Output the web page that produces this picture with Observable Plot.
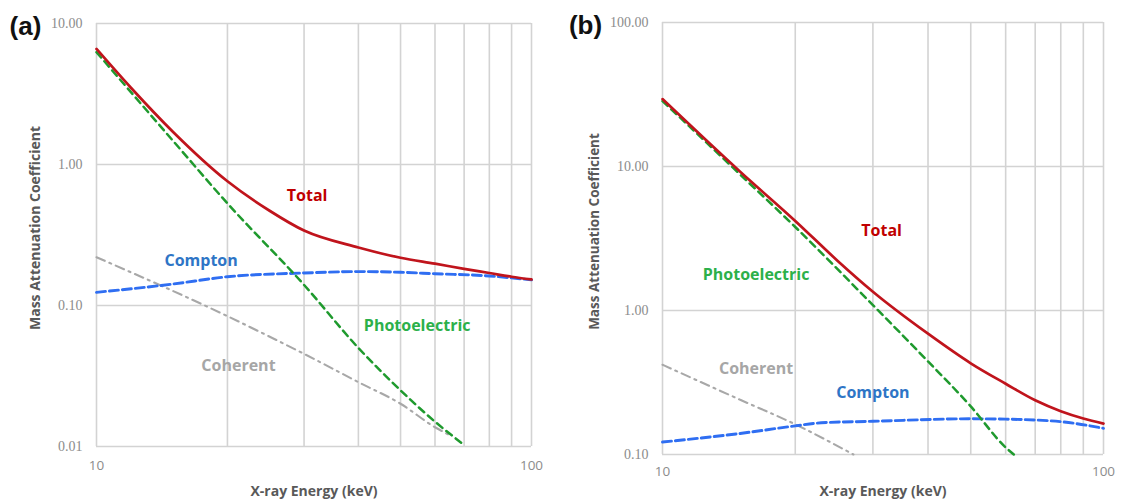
<!DOCTYPE html>
<html><head><meta charset="utf-8">
<script src="https://cdn.jsdelivr.net/npm/d3@7"></script>
<script src="https://cdn.jsdelivr.net/npm/@observablehq/plot@0.6"></script>
<style>
html,body{margin:0;padding:0;background:#fff;}
#wrap{position:relative;width:1121px;height:502px;overflow:hidden;background:#fff;}
#wrap svg{position:absolute;top:0;overflow:visible;}
</style></head><body>
<div id="wrap"></div>
<script>
// ---------- Panel (a) data ----------
const totalA_E = [10, 12, 15, 20, 25, 30, 40, 50, 60, 70, 80, 90, 100];
const totalA_v = [6.6, 3.5, 1.7, 0.76, 0.47, 0.34, 0.258, 0.218, 0.198, 0.182, 0.17, 0.16, 0.153];
const photoA_E = [10, 15, 20, 30, 40, 50, 60, 69.3];
const photoA_v = [6.26, 1.47, 0.53, 0.14, 0.05, 0.025, 0.015, 0.0105];
const comptonA_E = [10, 15, 20, 30, 40, 50, 60, 80, 100];
const comptonA_v = [0.124, 0.142, 0.16, 0.17, 0.174, 0.172, 0.168, 0.162, 0.152];
const coherentA_E = [10, 20, 26.5, 30, 40, 50, 60, 65];
const coherentA_v = [0.22, 0.084, 0.055, 0.0454, 0.0286, 0.0201, 0.0137, 0.012];
const yTicksA = [0.01, 0.1, 1, 10];

// ---------- Panel (b) data ----------
const totalB_E = [10, 15, 20, 25, 30, 40, 50, 60, 70, 80, 90, 100];
const totalB_v = [29.4, 9.2, 4.19, 2.2, 1.35, 0.69, 0.43, 0.31, 0.238, 0.2, 0.178, 0.164];
const photoB_E = [10, 15, 20, 30, 40, 50, 60, 62.6];
const photoB_v = [28.5, 8.8, 3.8, 1.09, 0.443, 0.216, 0.112, 0.1];
const comptonB_E = [10, 15, 20, 22.9, 30, 50, 60, 80, 100];
const comptonB_v = [0.122, 0.14, 0.158, 0.166, 0.17, 0.177, 0.176, 0.169, 0.152];
const coherentB_E = [10, 15, 20, 27.1];
const coherentB_v = [0.42, 0.24, 0.162, 0.1];
const yTicksB = [0.1, 1, 10, 100];

// shared
const xTicks = [10, 100];
const xGrid = [10, 20, 30, 40, 50, 60, 70, 80, 90, 100];
const xTitle = "X-ray Energy (keV)";
const yTitle = "Mass Attenuation Coefficient";

// label anchor points (data space)
const labelsA = [
  {t: "Total", E: 30.5, v: 0.603},
  {t: "Compton", E: 17.4, v: 0.206},
  {t: "Photoelectric", E: 54.6, v: 0.0713},
  {t: "Coherent", E: 21.2, v: 0.0375}
];
const labelsB = [
  {t: "Total", E: 31.4, v: 3.6},
  {t: "Photoelectric", E: 16.3, v: 1.76},
  {t: "Coherent", E: 16.3, v: 0.392},
  {t: "Compton", E: 30.0, v: 0.267}
];

const lineStyle = {
  Total: {stroke: "#c0141c", strokeWidth: 2.7},
  Photoelectric: {stroke: "#1f9a2e", strokeWidth: 2.5, strokeDasharray: "7,5"},
  Compton: {stroke: "#2f6ef2", strokeWidth: 2.9, strokeDasharray: "9,4"},
  Coherent: {stroke: "#a8a8a8", strokeWidth: 2.1, strokeDasharray: "9,5,2,5"}
};
const labelColor = {Total: "#c00000", Photoelectric: "#2cb04a", Compton: "#2e75c6", Coherent: "#a6a6a6"};

const zip = (E, v) => E.map((e, i) => ({E: e, v: v[i]}));

function panel(cfg) {
  const marks = [
    Plot.ruleX(xGrid, {stroke: "#d3d3d3", strokeWidth: 1.6}),
    Plot.ruleY(cfg.yTicks, {stroke: "#d3d3d3", strokeWidth: 1.6}),
    Plot.axisY(cfg.yTicks, {tickSize: 0, tickPadding: 14, tickFormat: d3.format(".2f"),
      fontFamily: "Liberation Serif, serif", fontSize: 14, fill: "#8c8c8c", label: null}),
    Plot.axisX(xTicks, {tickSize: 0, tickPadding: cfg.xPad, tickFormat: d => String(d),
      fontFamily: "Open Sans, sans-serif", fontSize: 13.5, fill: "#8c8c8c", label: null})
  ];
  const order = ["Coherent", "Compton", "Photoelectric", "Total"];
  for (const name of order) {
    marks.push(Plot.line(cfg.series[name], {x: "E", y: "v", curve: "monotone-x", ...lineStyle[name]}));
  }
  for (const l of cfg.labels) {
    marks.push(Plot.text([l], {x: "E", y: "v", text: "t", fill: labelColor[l.t],
      fontSize: 16, fontWeight: 700, fontFamily: "Open Sans, sans-serif"}));
  }
  marks.push(Plot.text([xTitle], {frameAnchor: "bottom", dy: cfg.xTitleDy, text: d => d,
    lineAnchor: "middle", textAnchor: "middle",
    fontSize: 14, fontWeight: 700, fill: "#595959", fontFamily: "Open Sans, sans-serif"}));
  marks.push(Plot.text([yTitle], {frameAnchor: "left", rotate: -90, dx: cfg.yTitleDx, dy: -7, text: d => d,
    lineAnchor: "middle", textAnchor: "middle",
    fontSize: cfg.yTitleSize, fontWeight: 700, fill: "#595959", fontFamily: "Open Sans, sans-serif"}));
  marks.push(Plot.text([cfg.tag], {frameAnchor: "top-left", dx: cfg.tagDx, dy: 3, text: d => d,
    textAnchor: "middle", lineAnchor: "middle",
    fontSize: 26, fontWeight: 700, fill: "#111", fontFamily: "Liberation Sans, Arial, sans-serif"}));
  const svg = Plot.plot({
    width: cfg.width, height: 502,
    marginLeft: cfg.ml, marginRight: cfg.mr, marginTop: cfg.mt, marginBottom: cfg.mb,
    style: {background: "transparent", overflow: "visible"},
    x: {type: "log", domain: [10, 100]},
    y: {type: "log", domain: cfg.yDomain},
    marks
  });
  svg.style.left = cfg.left + "px";
  return svg;
}

const wrap = document.getElementById("wrap");
wrap.appendChild(panel({
  left: 0, width: 560, ml: 96, mr: 29, mt: 23, mb: 56,
  yDomain: [0.01, 10], yTicks: yTicksA, xPad: 14, xTitleDy: 45, yTitleDx: -61, yTitleSize: 14,
  tag: "(a)", tagDx: -71,
  series: {
    Total: zip(totalA_E, totalA_v),
    Photoelectric: zip(photoA_E, photoA_v),
    Compton: zip(comptonA_E, comptonA_v),
    Coherent: zip(coherentA_E, coherentA_v)
  },
  labels: labelsA
}));
wrap.appendChild(panel({
  left: 560, width: 561, ml: 102, mr: 18, mt: 22, mb: 48,
  yDomain: [0.1, 100], yTicks: yTicksB, xPad: 12, xTitleDy: 37, yTitleDx: -68, yTitleSize: 13.5,
  tag: "(b)", tagDx: -77,
  series: {
    Total: zip(totalB_E, totalB_v),
    Photoelectric: zip(photoB_E, photoB_v),
    Compton: zip(comptonB_E, comptonB_v),
    Coherent: zip(coherentB_E, coherentB_v)
  },
  labels: labelsB
}));
</script>
</body></html>
